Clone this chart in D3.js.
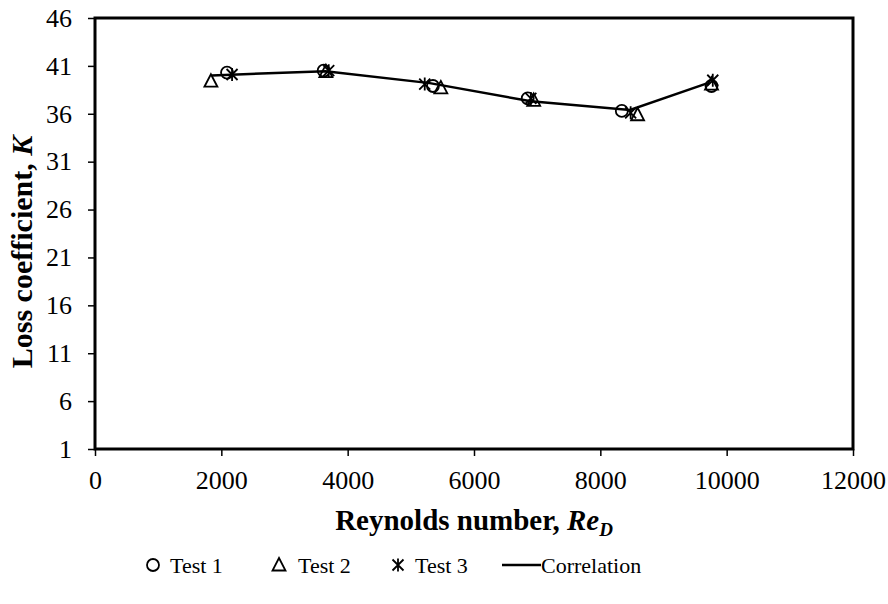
<!DOCTYPE html>
<html><head><meta charset="utf-8">
<script src="https://cdn.jsdelivr.net/npm/d3@7"></script>
<style>body{margin:0;background:#fff}svg{display:block}text{font-family:"Liberation Serif","Times New Roman",serif;fill:#000}</style>
</head><body><svg id="c" width="888" height="604"></svg>
<script>
const test1Re = [2090, 3620, 5350, 6850, 8340, 9760];
const test1K  = [40.3, 40.5, 38.9, 37.6, 36.3, 38.9];
const test2Re = [1835, 3655, 5475, 6945, 8590, 9760];
const test2K  = [39.4, 40.4, 38.7, 37.4, 35.9, 39.1];
const test3Re = [2170, 3700, 5220, 6900, 8480, 9780];
const test3K  = [40.1, 40.5, 39.1, 37.6, 36.1, 39.5];
const corrRe  = [1850, 3650, 5300, 6900, 8470, 9700];
const corrK   = [40.0, 40.45, 39.2, 37.3, 36.4, 39.2];
const xTicks = [0, 2000, 4000, 6000, 8000, 10000, 12000];
const yTicks = [1, 6, 11, 16, 21, 26, 31, 36, 41, 46];
const legendLabels = ["Test 1", "Test 2", "Test 3", "Correlation"];

const svg = d3.select("#c");
const L = 95, R = 853, T = 18, B = 449;
const x = d3.scaleLinear().domain([0, 12000]).range([L, R]);
const y = d3.scaleLinear().domain([1, 46]).range([B, T]);

// axes
const xa = svg.append("g").attr("transform", `translate(0,${B})`)
  .call(d3.axisBottom(x).tickValues(xTicks).tickSize(7).tickPadding(15).tickFormat(d3.format("d")));
const ya = svg.append("g").attr("transform", `translate(${L},0)`)
  .call(d3.axisLeft(y).tickValues(yTicks).tickSize(7).tickPadding(16));
[xa, ya].forEach(a => {
  a.select(".domain").remove();
  a.selectAll("line").attr("stroke", "#000").attr("stroke-width", 1.5);
  a.selectAll("text").style("font-size", "26px").attr("fill", "#000");
});
// frame
svg.append("rect").attr("x", L).attr("y", T).attr("width", R - L).attr("height", B - T)
  .attr("fill", "none").attr("stroke", "#000").attr("stroke-width", 3);

// correlation line
const line = d3.line().x(d => x(d[0])).y(d => y(d[1]));
svg.append("path").datum(corrRe.map((r, i) => [r, corrK[i]]))
  .attr("d", line).attr("fill", "none").attr("stroke", "#000").attr("stroke-width", 2.5);

function circ(g) { g.append("circle").attr("r", 6).attr("fill", "none").attr("stroke", "#000").attr("stroke-width", 1.8); }
function tri(g) { g.append("path").attr("d", "M0,-7L6.5,5.5L-6.5,5.5Z").attr("fill", "none").attr("stroke", "#000").attr("stroke-width", 1.8); }
function star(g) { g.append("path").attr("d", "M-5.5,-5.5L5.5,5.5M-5.5,5.5L5.5,-5.5M0,-6.5L0,6.5").attr("fill", "none").attr("stroke", "#000").attr("stroke-width", 1.8); }

function plot(res, ks, fn) {
  res.forEach((r, i) => {
    const g = svg.append("g").attr("transform", `translate(${x(r)},${y(ks[i])})`);
    fn(g);
  });
}
plot(test1Re, test1K, circ);
plot(test2Re, test2K, tri);
plot(test3Re, test3K, star);

// axis titles
const xt = svg.append("text").attr("x", 474).attr("y", 530).attr("text-anchor", "middle")
  .style("font-size", "29px").style("font-weight", "bold");
xt.append("tspan").text("Reynolds number, ");
xt.append("tspan").style("font-style", "italic").text("Re");
xt.append("tspan").style("font-style", "italic").style("font-size", "19px").attr("dy", 6).text("D");

const yt = svg.append("text").attr("transform", `translate(32,${(127 + 377) / 2}) rotate(-90)`)
  .attr("text-anchor", "middle").style("font-size", "30px").style("font-weight", "bold");
yt.append("tspan").text("Loss coefficient, ");
yt.append("tspan").style("font-style", "italic").text("K");

// legend
const ly = 565;
const lg = svg.append("g");
const items = [
  { mx: 153, tx: 170, fn: circ },
  { mx: 279, tx: 298, fn: tri },
  { mx: 398, tx: 415, fn: star },
  { mx: null, tx: 541, fn: null }
];
items.forEach((it, i) => {
  if (it.fn) { const g = lg.append("g").attr("transform", `translate(${it.mx},${ly})`); it.fn(g); }
  else lg.append("line").attr("x1", 502).attr("x2", 541).attr("y1", ly).attr("y2", ly).attr("stroke", "#000").attr("stroke-width", 2.5);
  lg.append("text").attr("x", it.tx).attr("y", ly + 8).style("font-size", "22px").text(legendLabels[i]);
});
</script></body></html>
